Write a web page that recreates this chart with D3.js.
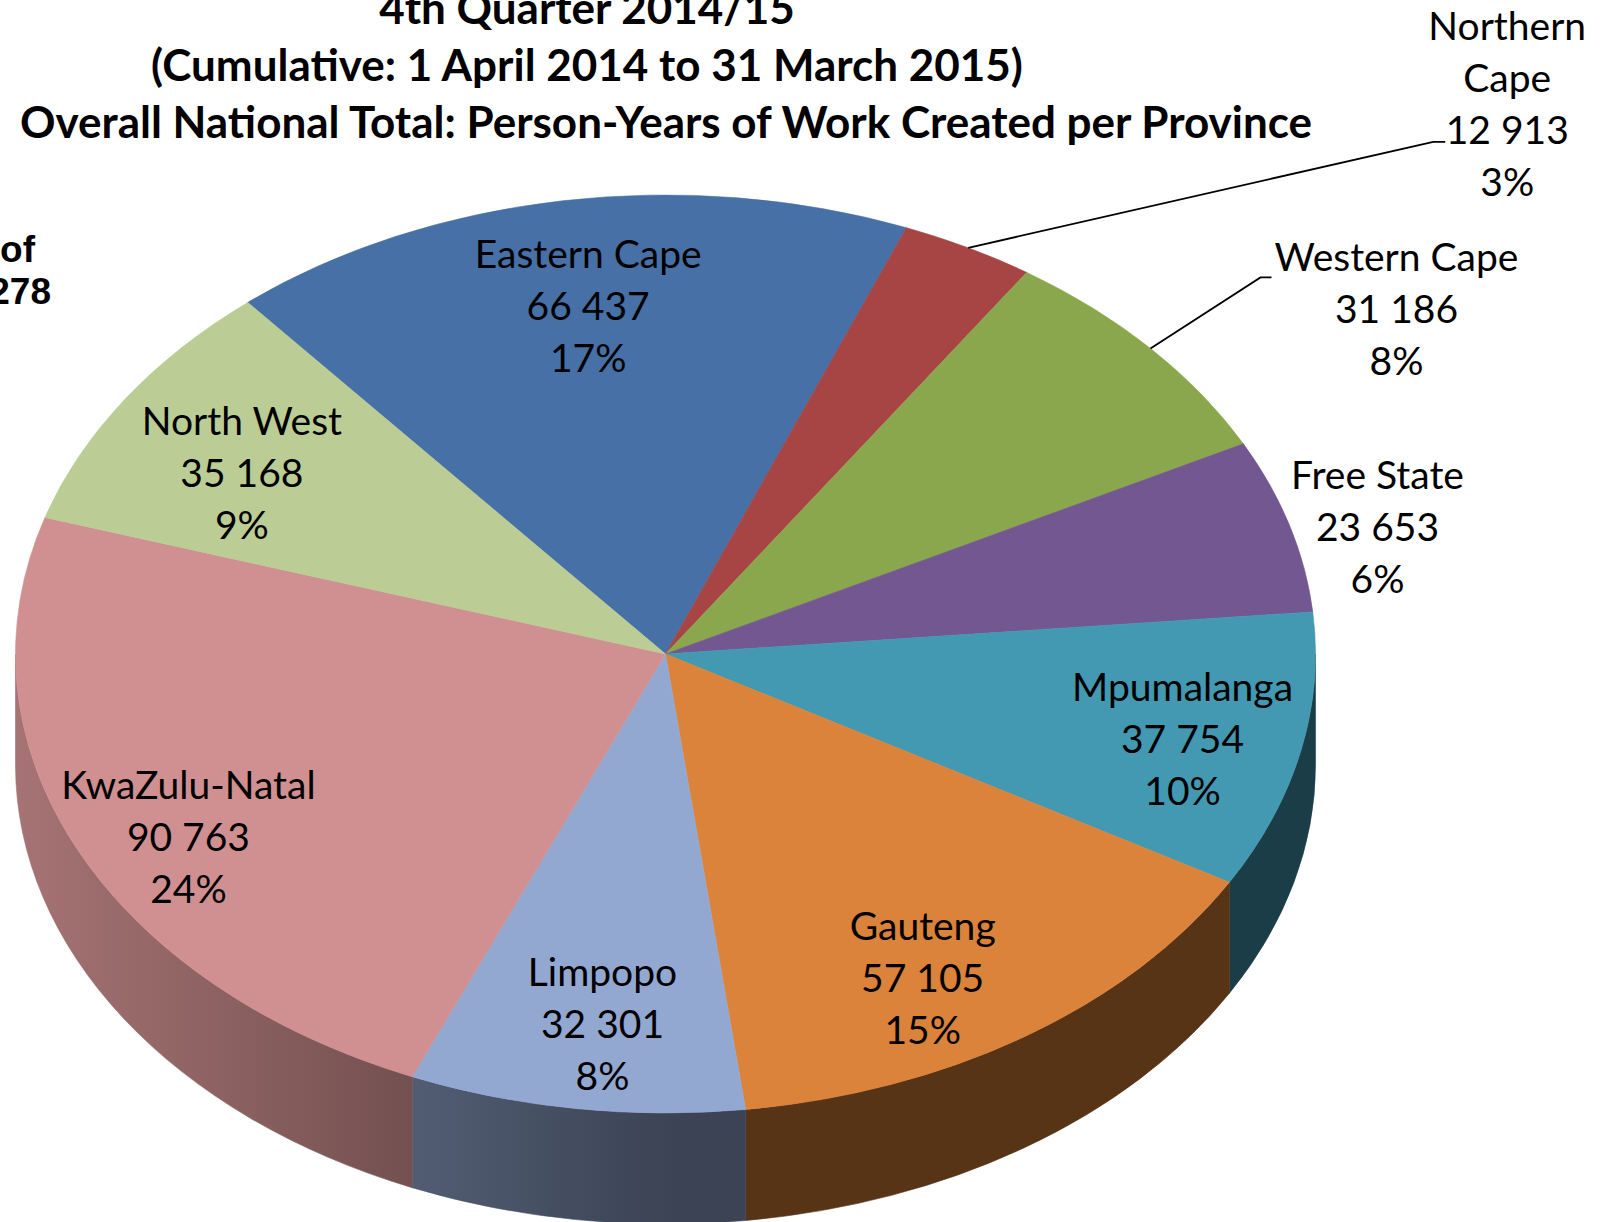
<!DOCTYPE html>
<html>
<head>
<meta charset="utf-8">
<script src="https://cdn.jsdelivr.net/npm/d3@7"></script>
<style>
  body { margin: 0; background: #fff; }
  svg { display: block; }
</style>
</head>
<body>
<div id="chart"></div>
<script>
/**
 * DATA
 * */
const provinces = ["Eastern Cape", "Northern Cape", "Western Cape", "Free State", "Mpumalanga",
  "Gauteng", "Limpopo", "KwaZulu-Natal", "North West"];
const personYears = [66437, 12913, 31186, 23653, 37754, 57105, 32301, 90763, 35168];
const shareLabels = ["17%", "3%", "8%", "6%", "10%", "15%", "8%", "24%", "9%"];
const nationalTotal = 387278;
const titleLines = [
  "4th Quarter 2014/15",
  "(Cumulative: 1 April 2014 to 31 March 2015)",
  "Overall National Total: Person-Years of Work Created per Province"
];

/**
 * CONSTANTS AND GLOBALS
 * */
const width = 1609, height = 1222;
const cx = 665.5, cy = 654, rx = 650, ry = 459, depth = 111;
const startDeg = -40;

const topColors = ["#4670a6", "#a64543", "#8ba74e", "#735790", "#4399b1",
  "#db833a", "#93a8d1", "#d09091", "#bbcd95"];

// label placement: r = radius fraction of anchor, dx/dy = nudge, lines split for the label
const labelLayout = {
  "Eastern Cape":  { r: 0.77, dx: 2, dy: 1 },
  "Northern Cape": { r: 1, dx: 539, dy: -144, split: true, leader: [[-74, 38], [-62, 38]] },
  "Western Cape":  { r: 1, dx: 246, dy: -39, leader: [[-136, -32], [-125, -32]] },
  "Free State":    { r: 1, dx: 88, dy: 1 },
  "Mpumalanga":    { r: 0.77, dx: 28, dy: 10 },
  "Gauteng":       { r: 0.77, dx: -20, dy: 30 },
  "Limpopo":       { r: 0.77, dx: 6, dy: 20 },
  "KwaZulu-Natal": { r: 0.77, dx: -23, dy: 34 },
  "North West":    { r: 0.77, dx: -7, dy: 15 }
};

const locale = d3.formatLocale({ decimal: ".", thousands: " ", grouping: [3], currency: ["", ""] });
const fmt = locale.format(",d");

const data = provinces.map((name, i) => ({ name, value: personYears[i], share: shareLabels[i], color: topColors[i] }));

const svg = d3.select("#chart").append("svg")
  .attr("width", width)
  .attr("height", height);

const defs = svg.append("defs");

const a0 = startDeg * Math.PI / 180;
const arcs = d3.pie()
  .sort(null)
  .value(d => d.value)
  .startAngle(a0)
  .endAngle(a0 + 2 * Math.PI)(data);

// point on the top ellipse, angle clockwise from 12 o'clock
const pt = (a, r = 1) => [cx + rx * r * Math.sin(a), cy - ry * r * Math.cos(a)];
// side brightness: lighter facing left, darker facing front/right
const shade = a => 0.4 + 0.4 * Math.max(0, -Math.sin(a));
const scaleColor = (c, f) => { const k = d3.rgb(c); return d3.rgb(k.r * f, k.g * f, k.b * f).formatHex(); };

/**
 * SIDES (front half only)
 * */
const sideG = svg.append("g");
arcs.forEach((d, i) => {
  const s = Math.max(d.startAngle, Math.PI / 2);
  const e = Math.min(d.endAngle, 3 * Math.PI / 2);
  if (s >= e) return;
  const p0 = pt(s), p1 = pt(e);
  const gid = "side" + i;
  const grad = defs.append("linearGradient")
    .attr("id", gid)
    .attr("gradientUnits", "userSpaceOnUse")
    .attr("x1", p0[0]).attr("y1", 0)
    .attr("x2", p1[0]).attr("y2", 0);
  d3.range(0, 1.0001, 0.2).forEach(t => {
    const a = s + t * (e - s);
    const x = pt(a)[0];
    const off = p1[0] === p0[0] ? t : (x - p0[0]) / (p1[0] - p0[0]);
    grad.append("stop")
      .attr("offset", Math.max(0, Math.min(1, off)))
      .attr("stop-color", scaleColor(d.data.color, shade(a)));
  });
  sideG.append("path")
    .attr("d", `M${p0[0]},${p0[1]} A${rx},${ry} 0 0 1 ${p1[0]},${p1[1]} L${p1[0]},${p1[1] + depth} A${rx},${ry} 0 0 0 ${p0[0]},${p0[1] + depth} Z`)
    .attr("fill", `url(#${gid})`)
    .attr("stroke", `url(#${gid})`)
    .attr("stroke-width", 0.6);
});

/**
 * TOP FACES
 * */
svg.append("g").selectAll("path")
  .data(arcs)
  .join("path")
  .attr("d", d => {
    const p0 = pt(d.startAngle), p1 = pt(d.endAngle);
    const large = d.endAngle - d.startAngle > Math.PI ? 1 : 0;
    return `M${cx},${cy} L${p0[0]},${p0[1]} A${rx},${ry} 0 ${large} 1 ${p1[0]},${p1[1]} Z`;
  })
  .attr("fill", d => d.data.color)
  .attr("stroke", d => d.data.color)
  .attr("stroke-width", 0.6);

/**
 * LABELS
 * */
const lh = 52;
const labelG = svg.append("g")
  .attr("font-family", "Lato, 'Open Sans', sans-serif")
  .attr("font-size", 39)
  .attr("fill", "#000")
  .attr("text-anchor", "middle");

arcs.forEach(d => {
  const L = labelLayout[d.data.name];
  const mid = (d.startAngle + d.endAngle) / 2;
  const base = pt(mid, L.r);
  const x = base[0] + L.dx, y = base[1] + L.dy;
  const nameLines = L.split ? d.data.name.split(" ") : [d.data.name];
  const lines = nameLines.concat([fmt(d.data.value), d.data.share]);
  const t = labelG.append("text");
  lines.forEach((ln, j) => {
    t.append("tspan")
      .attr("x", x)
      .attr("y", y - (lines.length - 1) / 2 * lh + 14 + j * lh)
      .text(ln);
  });
  if (L.leader) {
    const edge = pt(mid, 1);
    const pts = [edge].concat(L.leader.map(o => [x + o[0], y + o[1]]));
    svg.append("path")
      .attr("d", d3.line()(pts))
      .attr("fill", "none")
      .attr("stroke", "#000")
      .attr("stroke-width", 1.8);
  }
});

/**
 * TITLE
 * */
const titleG = svg.append("g")
  .attr("font-family", "Lato, 'Open Sans', sans-serif")
  .attr("font-weight", "bold")
  .attr("font-size", 44)
  .attr("text-anchor", "middle");
titleG.append("text").attr("x", 587).attr("y", 24).text(titleLines[0]);
titleG.append("text").attr("x", 587).attr("y", 81).text(titleLines[1]);
titleG.append("text").attr("x", 666).attr("y", 138).text(titleLines[2]);

// side note (partly outside the frame, as in the source)
const noteG = svg.append("g")
  .attr("font-family", "'Liberation Sans', Arial, sans-serif")
  .attr("font-weight", "bold")
  .attr("font-size", 37)
  .attr("text-anchor", "end");
noteG.append("text").attr("x", 35).attr("y", 262).text("of");
noteG.append("text").attr("x", 51).attr("y", 304).text(fmt(nationalTotal));
</script>
</body>
</html>
